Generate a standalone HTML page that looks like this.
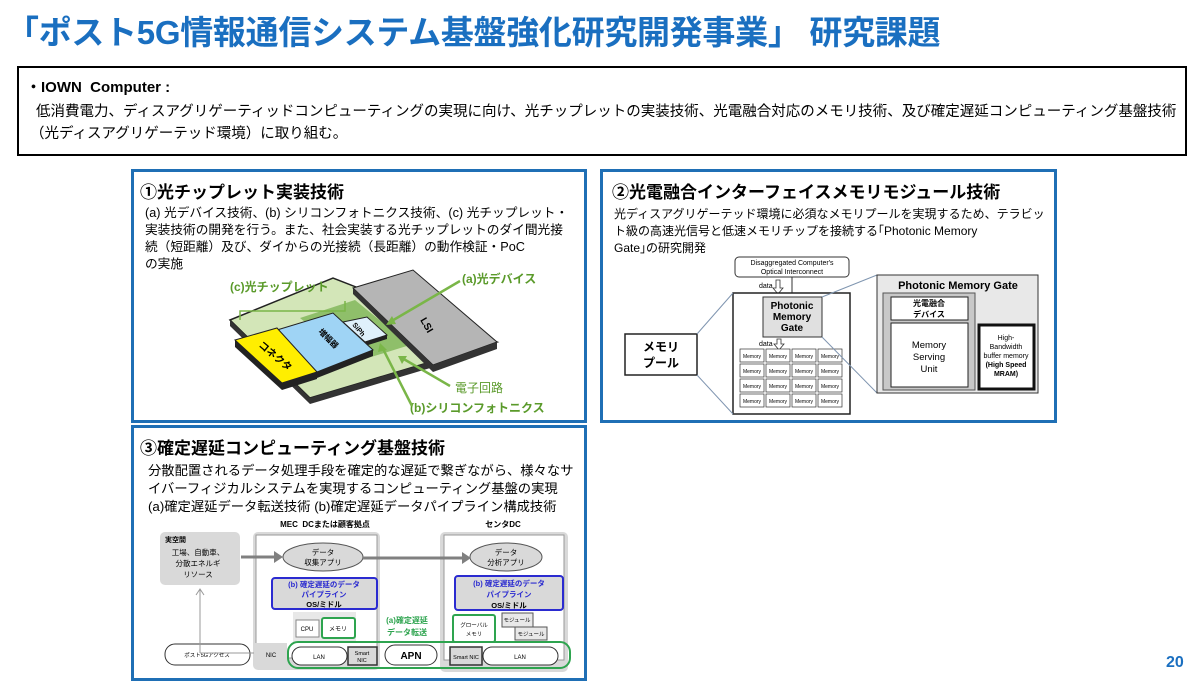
<!DOCTYPE html>
<html><head><meta charset="utf-8"><style>
body{margin:0;width:1200px;height:684px;background:#fff;position:relative;overflow:hidden;font-family:"Liberation Sans","Noto Sans CJK JP",sans-serif;}
.a{position:absolute;white-space:nowrap;}
.panel{position:absolute;border:3px solid #1f6fb5;box-sizing:border-box;}
</style></head><body>
<div class="a" style="left:6px;top:6px;font-size:33px;font-weight:bold;color:#1a6fc0;letter-spacing:-0.3px;">「ポスト5G情報通信システム基盤強化研究開発事業」 研究課題</div>
<div class="a" style="left:17px;top:66px;width:1170px;height:90px;border:2px solid #000;box-sizing:border-box;"></div>
<div class="a" style="left:26px;top:76px;font-size:15px;font-weight:bold;">・IOWN&nbsp; Computer :</div>
<div class="a" style="left:36px;top:100px;font-size:14.5px;">低消費電力、ディスアグリゲーティッドコンピューティングの実現に向け、光チップレットの実装技術、光電融合対応のメモリ技術、及び確定遅延コンピューティング基盤技術</div>
<div class="a" style="left:30px;top:122px;font-size:14.5px;">（光ディスアグリゲーテッド環境）に取り組む。</div>

<div class="panel" style="left:131px;top:169px;width:456px;height:254px;"></div>
<div class="panel" style="left:600px;top:169px;width:457px;height:254px;"></div>
<div class="panel" style="left:131px;top:425px;width:456px;height:256px;"></div>

<div class="a" style="left:140px;top:178px;font-size:17px;font-weight:bold;">①光チップレット実装技術</div>
<div class="a" style="left:145px;top:205px;font-size:12.7px;line-height:17px;">(a) 光デバイス技術、(b) シリコンフォトニクス技術、(c) 光チップレット・<br>実装技術の開発を行う。また、社会実装する光チップレットのダイ間光接<br>続（短距離）及び、ダイからの光接続（長距離）の動作検証・PoC<br>の実施</div>

<div class="a" style="left:612px;top:178px;font-size:17px;font-weight:bold;">②光電融合インターフェイスメモリモジュール技術</div>
<div class="a" style="left:614px;top:206px;font-size:12px;line-height:17px;">光ディスアグリゲーテッド環境に必須なメモリプールを実現するため、テラビッ<br>ト級の高速光信号と低速メモリチップを接続する｢Photonic Memory<br>Gate｣の研究開発</div>

<div class="a" style="left:140px;top:434px;font-size:17px;font-weight:bold;">③確定遅延コンピューティング基盤技術</div>
<div class="a" style="left:148px;top:462px;font-size:13.3px;line-height:18px;">分散配置されるデータ処理手段を確定的な遅延で繋ぎながら、様々なサ<br>イバーフィジカルシステムを実現するコンピューティング基盤の実現<br>(a)確定遅延データ転送技術 (b)確定遅延データパイプライン構成技術</div>

<div class="a" style="left:1166px;top:654px;font-size:16px;font-weight:bold;color:#1a6fc0;">20</div>

<svg class="a" style="left:0;top:0" width="1200" height="684" font-family="Liberation Sans, Noto Sans CJK JP, sans-serif">
<polygon points="230,320 333,278 497,342 310,398" fill="#d3e6b8" stroke="#222" stroke-width="1.5"/>
<polygon points="230,320 310,398 310,404 230,326" fill="#333"/>
<polygon points="310,398 497,342 497,348 310,404" fill="#333"/>
<polygon points="300,318 355,300 410,345 355,362" fill="#8fbf6a"/>
<polygon points="353,288 413,270 497,342 433,365" fill="#b5b5b5" stroke="#222"/>
<polygon points="353,288 433,365 433,372 353,294" fill="#333"/>
<polygon points="433,365 497,342 497,349 433,372" fill="#333"/>
<text x="420" y="320" font-size="10" font-weight="bold" transform="rotate(60 420 320)">LSI</text>
<polygon points="343,322 367,317 387,335 365,342" fill="#dff0fb" stroke="#222"/>
<polygon points="365,342 387,335 387,339 365,346" fill="#222"/>
<text x="352" y="325" font-size="7" font-weight="bold" transform="rotate(50 352 325)">SiPh</text>
<polygon points="277,330 333,313 373,350 317,372" fill="#9fd4f5" stroke="#222"/>
<polygon points="317,372 373,350 373,356 317,378" fill="#222"/>
<text x="318" y="332" font-size="8" font-weight="bold" transform="rotate(45 318 332)">増幅器</text>
<polygon points="235,340 277,328 317,372 282,383" fill="#ffee00" stroke="#222"/>
<polygon points="235,340 282,383 282,390 235,347" fill="#222"/>
<polygon points="282,383 317,372 317,379 282,390" fill="#222"/>
<text x="258" y="346" font-size="10" font-weight="bold" transform="rotate(40 258 346)">コネクタ</text>
<path d="M240,320 V311 H345 V301" fill="none" stroke="#7ab648" stroke-width="1.5"/>
<text x="230" y="291" font-size="12" font-weight="bold" fill="#5a9a2a">(c)光チップレット</text>
<text x="462" y="283" font-size="12" font-weight="bold" fill="#5a9a2a">(a)光デバイス</text>
<text x="455" y="392" font-size="12" fill="#5a9a2a">電子回路</text>
<text x="410" y="412" font-size="12" font-weight="bold" fill="#5a9a2a">(b)シリコンフォトニクス</text>
<g stroke="#7ab648" stroke-width="2.5" fill="none">
<line x1="460" y1="281" x2="390" y2="322"/><line x1="450" y1="386" x2="402" y2="358"/><line x1="412" y1="406" x2="382" y2="347"/>
</g>
<g fill="#7ab648"><polygon points="386,325 392,316 396,324"/><polygon points="398,356 407,356 402,364"/><polygon points="380,343 387,350 378,352"/></g>

<rect x="735" y="257" width="114" height="20" rx="4" fill="#fff" stroke="#333"/>
<text x="792" y="265" font-size="7" text-anchor="middle">Disaggregated Computer's</text>
<text x="792" y="274" font-size="7" text-anchor="middle">Optical Interconnect</text>
<line x1="792" y1="277" x2="792" y2="297" stroke="#333"/>
<text x="759" y="288" font-size="7">data</text>
<polygon points="776,280 780,280 780,288 783,288 778,294 773,288 776,288" fill="#fff" stroke="#333" stroke-width="0.8"/>
<rect x="733" y="293" width="117" height="121" fill="#fff" stroke="#222" stroke-width="1.5"/>
<rect x="763" y="297" width="59" height="40" fill="#e0e0e0" stroke="#333"/>
<text x="792" y="309" font-size="10" font-weight="bold" text-anchor="middle">Photonic</text>
<text x="792" y="320" font-size="10" font-weight="bold" text-anchor="middle">Memory</text>
<text x="792" y="331" font-size="10" font-weight="bold" text-anchor="middle">Gate</text>
<text x="759" y="346" font-size="7">data</text>
<polygon points="777,339 781,339 781,344 784,344 779,350 774,344 777,344" fill="#fff" stroke="#333" stroke-width="0.8"/>
<g font-size="5" text-anchor="middle" stroke="#333" stroke-width="0.7">
<rect x="740" y="349" width="24" height="13" fill="#fff"/><rect x="766" y="349" width="24" height="13" fill="#fff"/><rect x="792" y="349" width="24" height="13" fill="#fff"/><rect x="818" y="349" width="24" height="13" fill="#fff"/>
<rect x="740" y="364" width="24" height="13" fill="#fff"/><rect x="766" y="364" width="24" height="13" fill="#fff"/><rect x="792" y="364" width="24" height="13" fill="#fff"/><rect x="818" y="364" width="24" height="13" fill="#fff"/>
<rect x="740" y="379" width="24" height="13" fill="#fff"/><rect x="766" y="379" width="24" height="13" fill="#fff"/><rect x="792" y="379" width="24" height="13" fill="#fff"/><rect x="818" y="379" width="24" height="13" fill="#fff"/>
<rect x="740" y="394" width="24" height="13" fill="#fff"/><rect x="766" y="394" width="24" height="13" fill="#fff"/><rect x="792" y="394" width="24" height="13" fill="#fff"/><rect x="818" y="394" width="24" height="13" fill="#fff"/>
</g>
<g font-size="5" text-anchor="middle">
<text x="752" y="358">Memory</text><text x="778" y="358">Memory</text><text x="804" y="358">Memory</text><text x="830" y="358">Memory</text>
<text x="752" y="373">Memory</text><text x="778" y="373">Memory</text><text x="804" y="373">Memory</text><text x="830" y="373">Memory</text>
<text x="752" y="388">Memory</text><text x="778" y="388">Memory</text><text x="804" y="388">Memory</text><text x="830" y="388">Memory</text>
<text x="752" y="403">Memory</text><text x="778" y="403">Memory</text><text x="804" y="403">Memory</text><text x="830" y="403">Memory</text>
</g>
<rect x="625" y="334" width="72" height="41" fill="#fff" stroke="#222" stroke-width="1.5"/>
<text x="661" y="351" font-size="12" font-weight="bold" text-anchor="middle">メモリ</text>
<text x="661" y="367" font-size="12" font-weight="bold" text-anchor="middle">プール</text>
<g stroke="#7f95b0" stroke-width="1"><line x1="697" y1="334" x2="733" y2="293"/><line x1="697" y1="375" x2="733" y2="414"/><line x1="822" y1="297" x2="877" y2="275"/><line x1="822" y1="337" x2="877" y2="393"/></g>
<rect x="877" y="275" width="161" height="118" fill="#e8e8e8" stroke="#333"/>
<text x="958" y="289" font-size="11" font-weight="bold" text-anchor="middle">Photonic Memory Gate</text>
<rect x="883" y="293" width="92" height="97" fill="#c8c8c8" stroke="#555"/>
<rect x="891" y="297" width="77" height="23" fill="#fff" stroke="#222"/>
<text x="929" y="306" font-size="8" font-weight="bold" text-anchor="middle">光電融合</text>
<text x="929" y="317" font-size="8" font-weight="bold" text-anchor="middle">デバイス</text>
<rect x="891" y="323" width="77" height="64" fill="#fff" stroke="#222"/>
<text x="929" y="348" font-size="9.5" text-anchor="middle">Memory</text>
<text x="929" y="360" font-size="9.5" text-anchor="middle">Serving</text>
<text x="929" y="372" font-size="9.5" text-anchor="middle">Unit</text>
<rect x="979" y="325" width="55" height="64" fill="#fff" stroke="#111" stroke-width="3"/>
<g font-size="7" text-anchor="middle"><text x="1006" y="340">High-</text><text x="1006" y="349">Bandwidth</text><text x="1006" y="358">buffer memory</text><text x="1006" y="367" font-weight="bold">(High Speed</text><text x="1006" y="376" font-weight="bold">MRAM)</text></g>

<text x="325" y="527" font-size="8" font-weight="bold" text-anchor="middle">MEC&#160; DCまたは顧客拠点</text>
<text x="503" y="527" font-size="8" font-weight="bold" text-anchor="middle">センタDC</text>
<rect x="160" y="532" width="80" height="53" rx="5" fill="#d9d9d9"/>
<text x="165" y="542" font-size="7" font-weight="bold">実空間</text>
<g font-size="7.5" text-anchor="middle"><text x="198" y="555">工場、自動車、</text><text x="198" y="566">分散エネルギ</text><text x="198" y="577">リソース</text></g>
<rect x="253" y="532" width="127" height="138" rx="5" fill="#d9d9d9"/>
<rect x="256" y="535" width="121" height="123" fill="#fff" stroke="#999"/>
<rect x="440" y="532" width="128" height="140" rx="5" fill="#d9d9d9"/>
<rect x="444" y="535" width="120" height="125" fill="#fff" stroke="#999"/>
<ellipse cx="323" cy="557" rx="40" ry="14" fill="#d9d9d9" stroke="#555"/>
<text x="323" y="555" font-size="7.5" text-anchor="middle">データ</text><text x="323" y="565" font-size="7.5" text-anchor="middle">収集アプリ</text>
<ellipse cx="506" cy="557" rx="36" ry="14" fill="#d9d9d9" stroke="#555"/>
<text x="506" y="555" font-size="7.5" text-anchor="middle">データ</text><text x="506" y="565" font-size="7.5" text-anchor="middle">分析アプリ</text>
<g stroke="#808080" stroke-width="3" fill="none"><line x1="241" y1="557" x2="276" y2="557"/><line x1="363" y1="558" x2="464" y2="558"/></g>
<polygon points="283,557 274,551 274,563" fill="#808080"/><polygon points="471,558 462,552 462,564" fill="#808080"/>
<rect x="272" y="578" width="105" height="31" rx="3" fill="#d9d9d9" stroke="#2b2bd0" stroke-width="2"/>
<rect x="455" y="576" width="108" height="34" rx="3" fill="#d9d9d9" stroke="#2b2bd0" stroke-width="2"/>
<g font-size="7.5" font-weight="bold" text-anchor="middle">
<text x="324" y="587" fill="#2b2bd0">(b) 確定遅延のデータ</text><text x="324" y="597" fill="#2b2bd0">パイプライン</text><text x="324" y="607">OS/ミドル</text>
<text x="509" y="586" fill="#2b2bd0">(b) 確定遅延のデータ</text><text x="509" y="597" fill="#2b2bd0">パイプライン</text><text x="509" y="608">OS/ミドル</text>
</g>
<rect x="293" y="612" width="63" height="30" fill="#e8e8e8"/>
<rect x="296" y="620" width="23" height="17" fill="#fff" stroke="#888"/><text x="307" y="631" font-size="6" text-anchor="middle">CPU</text>
<rect x="322" y="618" width="33" height="20" rx="2" fill="#fff" stroke="#2ea44f" stroke-width="2"/><text x="338" y="631" font-size="6" text-anchor="middle">メモリ</text>
<text x="407" y="623" font-size="8" font-weight="bold" fill="#2ea44f" text-anchor="middle">(a)確定遅延</text>
<text x="407" y="635" font-size="8" font-weight="bold" fill="#2ea44f" text-anchor="middle">データ転送</text>
<rect x="453" y="615" width="42" height="27" rx="2" fill="#fff" stroke="#2ea44f" stroke-width="2"/>
<text x="474" y="627" font-size="5.5" text-anchor="middle">グローバル</text><text x="474" y="636" font-size="5.5" text-anchor="middle">メモリ</text>
<rect x="502" y="613" width="31" height="14" fill="#e8e8e8" stroke="#555"/><text x="517" y="622" font-size="5.5" text-anchor="middle">モジュール</text>
<rect x="515" y="627" width="32" height="13" fill="#e8e8e8" stroke="#555"/><text x="531" y="636" font-size="5.5" text-anchor="middle">モジュール</text>
<rect x="255" y="643" width="32" height="22" fill="#d9d9d9"/><text x="271" y="657" font-size="6" text-anchor="middle">NIC</text>
<rect x="165" y="644" width="85" height="21" rx="10" fill="#fff" stroke="#333"/><text x="207" y="657" font-size="5.5" text-anchor="middle">ポスト5Gアクセス</text>
<polyline points="200,653 200,590" fill="none" stroke="#999"/><polyline points="196,595 200,589 204,595" fill="none" stroke="#999"/>
<line x1="200" y1="653" x2="254" y2="653" stroke="#999"/>
<rect x="288" y="642" width="282" height="26" rx="10" fill="none" stroke="#2ea44f" stroke-width="2"/>
<rect x="292" y="647" width="55" height="18" rx="9" fill="#fff" stroke="#333"/><text x="319" y="659" font-size="6" text-anchor="middle">LAN</text>
<rect x="348" y="647" width="29" height="18" fill="#d9d9d9" stroke="#333" stroke-width="1.5"/><text x="362" y="655" font-size="5.5" text-anchor="middle">Smart</text><text x="362" y="662" font-size="5.5" text-anchor="middle">NIC</text>
<rect x="385" y="645" width="52" height="20" rx="10" fill="#fff" stroke="#333"/><text x="411" y="659" font-size="10" font-weight="bold" text-anchor="middle">APN</text>
<rect x="450" y="647" width="32" height="18" fill="#d9d9d9" stroke="#333" stroke-width="1.5"/><text x="466" y="659" font-size="5.5" text-anchor="middle">Smart NIC</text>
<rect x="483" y="647" width="75" height="18" rx="9" fill="#fff" stroke="#333"/><text x="520" y="659" font-size="6" text-anchor="middle">LAN</text>
</svg>
</body></html>
